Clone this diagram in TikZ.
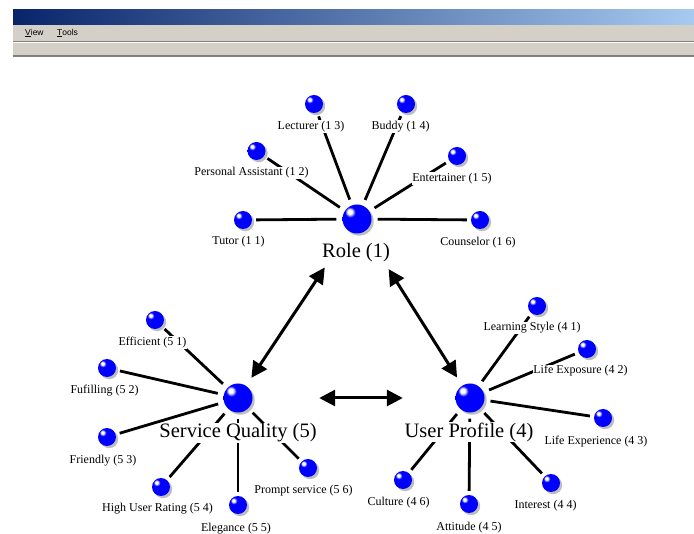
\documentclass[tikz,border=0pt]{standalone}
\usepackage{fontspec}
\setmainfont{Liberation Serif}
\newfontfamily\uisans{Liberation Sans}
\usetikzlibrary{arrows.meta,shadows}
\definecolor{tbdark}{RGB}{10,36,106}
\definecolor{tblight}{RGB}{166,202,240}
\definecolor{winbg}{RGB}{212,208,200}
\definecolor{winsh}{RGB}{128,128,128}
\definecolor{vblue}{RGB}{0,0,255}
\definecolor{shgrey}{RGB}{190,190,190}
\pgfdeclareradialshading{blueball}{\pgfpoint{-13bp}{13bp}}{%
  color(0bp)=(white);
  color(4bp)=(white);
  color(9bp)=(vblue);
  color(34bp)=(vblue);
  color(50bp)=(vblue!82!black);
  color(66bp)=(vblue!62!black);
  color(100bp)=(vblue!40!black)}
\begin{document}
\begin{tikzpicture}[x=1pt,y=-1pt,
  hub/.style={circle,minimum size=29pt,inner sep=0pt,shading=blueball,
    drop shadow={shadow xshift=2.2pt,shadow yshift=-2.2pt,fill=shgrey,opacity=1}},
  leaf/.style={hub,minimum size=18pt},
  lbl/.style={fill=white,inner sep=0.6pt,font=\fontsize{12}{14}\selectfont},
  hublbl/.style={fill=white,inner sep=0.6pt,font=\fontsize{20.5}{24}\selectfont},
  spoke/.style={line width=2.8pt,shorten <=6pt,shorten >=4pt},
  rel/.style={line width=3pt,{Triangle[length=16pt,width=16pt]}-{Triangle[length=16pt,width=16pt]}},
  menu/.style={font=\uisans\fontsize{8.5}{10}\selectfont,inner sep=0pt,anchor=west}]
\useasboundingbox[fill=white] (0,0) rectangle (694,534);
% window chrome
\shade[left color=tbdark,right color=tblight] (13,10) rectangle (694,25);
\fill[winbg] (13,25) rectangle (694,56);
\draw[winsh,line width=0.8pt] (13,41) -- (694,41);
\draw[white,line width=0.8pt] (13,42) -- (694,42);
\fill[winsh] (13,55) rectangle (694,57.5);
\node[menu] (mview) at (25,33) {\underline{V}iew};
\node[menu] (mtools) at (57,33) {\underline{T}ools};
% hubs
\node[hub] (role) at (357,219) {};
\node[hub] (sq) at (238,398) {};
\node[hub] (up) at (470,398) {};
% role leaves
\node[leaf] (r1) at (243,220) {};
\node[leaf] (r2) at (256.5,151) {};
\node[leaf] (r3) at (314,104) {};
\node[leaf] (r4) at (406,104) {};
\node[leaf] (r5) at (457,156) {};
\node[leaf] (r6) at (480,220) {};
% service quality leaves
\node[leaf] (s1) at (155,320) {};
\node[leaf] (s2) at (107,368) {};
\node[leaf] (s3) at (107,437) {};
\node[leaf] (s4) at (161,487) {};
\node[leaf] (s5) at (238,505) {};
\node[leaf] (s6) at (308,468) {};
% user profile leaves
\node[leaf] (u1) at (537,306) {};
\node[leaf] (u2) at (587,349) {};
\node[leaf] (u3) at (603,418) {};
\node[leaf] (u4) at (551,483) {};
\node[leaf] (u5) at (469,504) {};
\node[leaf] (u6) at (403,480) {};
% spokes
\foreach \n in {r1,r2,r3,r4,r5,r6} \draw[spoke] (role) -- (\n);
\foreach \n in {s1,s2,s3,s4,s5,s6} \draw[spoke] (sq) -- (\n);
\foreach \n in {u1,u2,u3,u4,u5,u6} \draw[spoke] (up) -- (\n);
% labels (white background hides the spokes behind them)
\node[hublbl] (lrole) at (356,253) {Role (1)};
\node[hublbl] (lsq) at (238,433) {Service Quality (5)};
\node[hublbl] (lup) at (469,432) {User Profile (4)};
\node[lbl] (lr1) at (238.5,242) {Tutor (1 1)};
\node[lbl] (lr2) at (251.5,173) {Personal Assistant (1 2)};
\node[lbl] (lr3) at (311,126.5) {Lecturer (1 3)};
\node[lbl] (lr4) at (400.5,126.5) {Buddy (1 4)};
\node[lbl] (lr5) at (452,178.5) {Entertainer (1 5)};
\node[lbl] (lr6) at (478,243) {Counselor (1 6)};
\node[lbl] (ls1) at (152.5,342.5) {Efficient (5 1)};
\node[lbl] (ls2) at (104.5,391) {Fufilling (5 2)};
\node[lbl] (ls3) at (103,460.5) {Friendly (5 3)};
\node[lbl] (ls4) at (157.5,509) {High User Rating (5 4)};
\node[lbl] (ls5) at (236,528.5) {Elegance (5 5)};
\node[lbl] (ls6) at (303.5,491) {Prompt service (5 6)};
\node[lbl] (lu1) at (532,328) {Learning Style (4 1)};
\node[lbl] (lu2) at (580.5,371) {Life Exposure (4 2)};
\node[lbl] (lu3) at (596,442) {Life Experience (4 3)};
\node[lbl] (lu4) at (545.5,506) {Interest (4 4)};
\node[lbl] (lu5) at (469,528) {Attitude (4 5)};
\node[lbl] (lu6) at (398.5,503) {Culture (4 6)};
% relations
\draw[rel,shorten <=43.5pt,shorten >=9.5pt] (role) -- (sq);
\draw[rel,shorten <=44.5pt,shorten >=9.5pt] (role) -- (up);
\draw[rel,shorten <=66.5pt,shorten >=52.5pt] (sq) -- (up);
\end{tikzpicture}
\end{document}
